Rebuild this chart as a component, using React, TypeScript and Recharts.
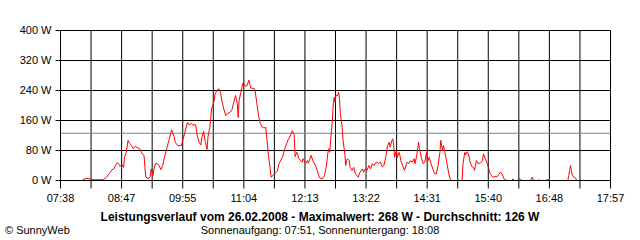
import React from 'react';
import { LineChart, Line, XAxis, YAxis, CartesianGrid, ReferenceLine } from 'recharts';

const FONT = '"Liberation Sans", Arial, sans-serif';

// time in minutes since midnight
const minutes = [
  483, 487, 491, 495, 501, 506, 510, 512, 514, 516, 518, 520, 522, 524, 525, 527, 529, 530, 532, 534,
  536, 538, 540, 542, 545, 547, 550, 552, 553, 554, 557, 559, 560, 562, 563, 565, 567, 569, 571, 573,
  575, 577, 580, 582, 583, 586, 587, 590, 594, 596, 599, 601, 603, 605, 607, 610, 612, 614, 616, 617,
  619, 621, 623, 624, 626, 627, 628, 631, 632, 634, 636, 638, 640, 642, 644, 646, 649, 651, 653, 655,
  657, 658, 659, 661, 663, 664, 666, 668, 670, 672, 676, 677, 679, 681, 683, 685, 687, 689, 691, 692,
  694, 695, 697, 700, 702, 704, 708, 711, 714, 716, 719, 721, 722, 724, 725, 726, 729, 730, 731, 734,
  736, 737, 740, 742, 744, 747, 749, 751, 753, 755, 757, 759, 760, 761, 762, 763, 764, 765, 766, 767,
  768, 770, 771, 772, 773, 775, 776, 778, 779, 780, 781, 783, 784, 786, 788, 790, 793, 795, 798, 799,
  801, 803, 805, 807, 809, 811, 812, 814, 816, 818, 820, 822, 824, 826, 828, 829, 831, 832, 833, 834,
  836, 837, 839, 840, 841, 843, 845, 848, 850, 852, 854, 856, 857, 859, 861, 862, 864, 866, 868, 870,
  871, 873, 875, 877, 879, 881, 883, 885, 886, 888, 889, 891, 893, 895, 897, 903, 910, 911, 913, 914,
  916, 918, 919, 921, 923, 924, 926, 928, 931, 933, 934, 936, 938, 940, 941, 943, 945, 948, 949, 951,
  953, 955, 957, 959, 961, 966, 967, 969, 972, 974, 976, 978, 987, 989, 990, 993, 995, 996, 998, 1004,
  1005, 1007, 1009, 1029, 1030, 1031, 1032, 1033, 1034, 1036, 1038, 1039,
];

// power in W
const watts = [
  2, 6, 4, 2, 2, 2, 9, 16, 22, 29, 31, 40, 48, 43, 38, 43, 35, 62, 75, 107,
  98, 93, 85, 91, 87, 85, 71, 67, 35, 9, 5, 11, 31, 13, 29, 45, 45, 39, 29, 40,
  62, 80, 107, 125, 135, 117, 102, 93, 93, 111, 138, 155, 148, 152, 148, 149, 120, 102, 95, 115,
  131, 102, 83, 117, 141, 165, 191, 213, 231, 240, 245, 235, 209, 189, 173, 178, 182, 189, 208, 227,
  205, 168, 213, 235, 258, 262, 251, 253, 268, 247, 245, 240, 205, 171, 151, 143, 140, 142, 93, 67,
  32, 9, 13, 21, 25, 45, 64, 89, 108, 116, 133, 123, 64, 75, 69, 59, 52, 49, 58, 46,
  53, 46, 67, 53, 45, 27, 9, 5, 5, 13, 34, 75, 85, 75, 107, 133, 160, 205, 222, 209,
  227, 227, 235, 219, 178, 142, 107, 71, 40, 53, 58, 53, 35, 27, 35, 18, 9, 22, 31, 22,
  31, 27, 40, 31, 45, 40, 45, 49, 45, 49, 37, 40, 62, 93, 102, 89, 107, 111, 93, 62,
  80, 61, 75, 67, 53, 40, 27, 49, 45, 53, 49, 58, 45, 67, 102, 85, 62, 45, 49, 75,
  49, 62, 45, 31, 18, 18, 40, 75, 107, 80, 93, 71, 45, 18, 0, 0, 0, 45, 75, 69,
  77, 62, 48, 37, 35, 27, 53, 45, 48, 53, 71, 58, 47, 32, 21, 13, 9, 11, 9, 16,
  22, 18, 5, 2, 0, 0, 4, 0, 0, 5, 2, 0, 0, 9, 2, 0, 0, 2, 0, 0,
  2, 2, 0, 0, 13, 27, 40, 27, 13, 9, 5, 0,
];

const tickLabels = ['07:38', '08:47', '09:55', '11:04', '12:13', '13:22', '14:31', '15:40', '16:48', '17:57'];
const yTicks = [0, 80, 160, 240, 320, 400];
const average = 126;
const startMin = 458;
const endMin = 1077;

const step = (endMin - startMin) / ((tickLabels.length - 1) * 2);
const gridTicks = Array.from({ length: (tickLabels.length - 1) * 2 + 1 }, (_, k) => startMin + k * step);

const data = minutes.map((t, i) => ({ t, w: watts[i] }));

const xFmt = (v: number) => {
  const k = Math.round((v - startMin) / step);
  return k % 2 === 0 ? tickLabels[k / 2] : '';
};

export default function App() {
  return (
    <div style={{ position: 'absolute', left: 0, top: 0, width: 640, height: 240, background: '#fff', fontFamily: FONT, color: '#000' }}>
      <LineChart width={640} height={240} data={data} margin={{ top: 30.5, right: 29.5, bottom: 39.5, left: 0 }}>
        <CartesianGrid stroke="#000" strokeOpacity={1} />
        <XAxis
          dataKey="t"
          type="number"
          domain={[startMin, endMin]}
          ticks={gridTicks}
          interval={0}
          height={20}
          tickFormatter={xFmt}
          tickSize={8}
          tickMargin={6}
          tick={{ fill: '#000', fontSize: 11, fontFamily: FONT }}
          tickLine={{ stroke: '#000' }}
          axisLine={{ stroke: '#000' }}
          allowDataOverflow
        />
        <YAxis
          type="number"
          domain={[0, 400]}
          ticks={yTicks}
          interval={0}
          width={60.5}
          tickFormatter={(v: number) => `${v} W`}
          tickSize={5}
          tickMargin={4}
          tick={{ fill: '#000', fontSize: 11, fontFamily: FONT }}
          tickLine={{ stroke: '#000' }}
          axisLine={{ stroke: '#000' }}
        />
        <ReferenceLine y={average} stroke="#808080" strokeWidth={1} />
        <Line dataKey="w" type="linear" stroke="#ff0000" strokeWidth={1} dot={false} activeDot={false} isAnimationActive={false} />
      </LineChart>
      <div style={{ position: 'absolute', left: 0, top: 210.3, width: 640, textAlign: 'center', fontSize: 12, lineHeight: '14px', fontWeight: 'bold' }}>
        Leistungsverlauf vom 26.02.2008 - Maximalwert: 268 W - Durchschnitt: 126 W
      </div>
      <div style={{ position: 'absolute', left: 0, top: 224.2, width: 640, textAlign: 'center', fontSize: 11, lineHeight: '13px' }}>
        Sonnenaufgang: 07:51, Sonnenuntergang: 18:08
      </div>
      <div style={{ position: 'absolute', left: 5, top: 224.2, fontSize: 11, lineHeight: '13px' }}>
        © SunnyWeb
      </div>
    </div>
  );
}
